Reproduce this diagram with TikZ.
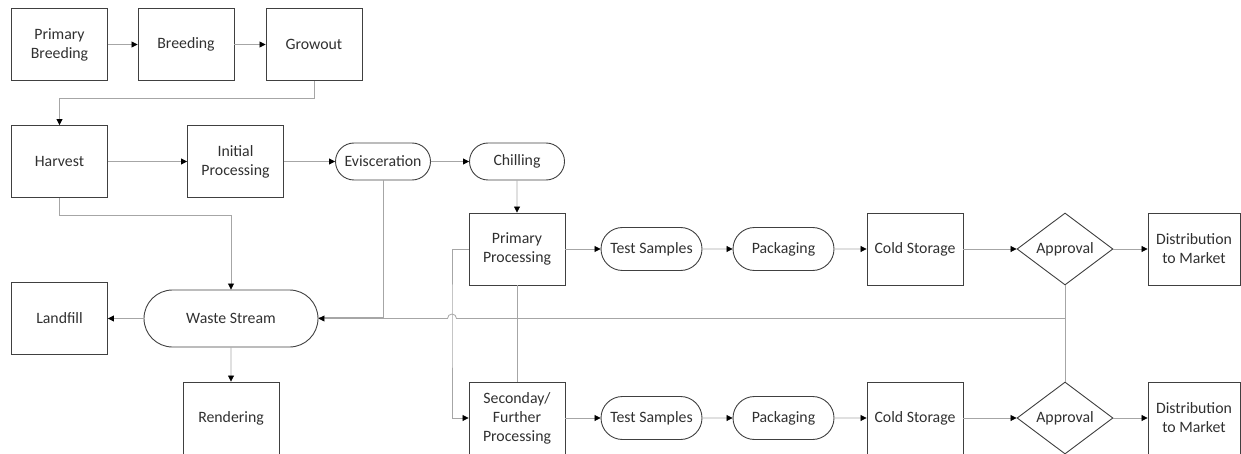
\documentclass[tikz,border=0pt]{standalone}
\usepackage{fontspec}
\setmainfont{Carlito}
\usepackage{tikz}
\usetikzlibrary{arrows.meta,shapes.geometric,shapes.misc}
\definecolor{boxline}{HTML}{404040}
\definecolor{wiregray}{HTML}{A6A6A6}
\definecolor{ink}{HTML}{303030}

\begin{document}
\begin{tikzpicture}[x=1pt,y=-1pt,
        >={Triangle[length=6pt,width=6pt,color=black]},
        every node/.style={font=\fontsize{15.8}{19}\selectfont, text=ink, align=center},
        stage/.style={draw=boxline, line width=0.9pt, minimum width=96pt, minimum height=72pt, inner sep=1pt},
        terminal/.style={draw=boxline, line width=0.9pt, rounded rectangle, minimum width=97pt, minimum height=37pt, inner sep=1pt},
        decision/.style={draw=boxline, line width=0.9pt, diamond, aspect=1.33, minimum width=96pt, minimum height=72pt, inner sep=0pt},
        link/.style={draw=wiregray, line width=0.8pt}]
        \useasboundingbox (0,0) rectangle (1241,454);

        % farm side
        \node[stage] (pb) at (59.5,44.5) {Primary\\Breeding};
        \node[stage] (br) at (186,44.5) {Breeding};
        \node[stage] (gr) at (314,44.5) {Growout};
        \node[stage] (hv) at (59.5,161.5) {Harvest};
        \node[stage] (ip) at (235.5,161.5) {Initial\\Processing};
        \node[terminal] (ev) at (383,161.5) {Evisceration};
        \node[terminal] (ch) at (517,161.5) {Chilling};

        % waste side
        \node[stage] (lf) at (59.5,318.5) {Landfill};
        \node[terminal, minimum width=176pt, minimum height=57pt] (ws) at (231,318.5) {Waste Stream};
        \node[stage] (rd) at (231,418) {Rendering};

        % processing lines
        \node[stage] (pp) at (517,249) {Primary\\Processing};
        \node[terminal, minimum width=103pt, minimum height=43pt] (ts1) at (651.5,249) {Test Samples};
        \node[terminal, minimum width=103pt, minimum height=43pt] (pk1) at (783.5,249) {Packaging};
        \node[stage] (cs1) at (915,249) {Cold Storage};
        \node[decision] (ap1) at (1065,249) {Approval};
        \node[stage, minimum width=92pt] (dm1) at (1194,249) {Distribution\\to Market};

        \node[stage] (sp) at (517,418) {Seconday/\\Further\\Processing};
        \node[terminal, minimum width=103pt, minimum height=43pt] (ts2) at (651.5,418) {Test Samples};
        \node[terminal, minimum width=103pt, minimum height=43pt] (pk2) at (783.5,418) {Packaging};
        \node[stage] (cs2) at (915,418) {Cold Storage};
        \node[decision] (ap2) at (1065,418) {Approval};
        \node[stage, minimum width=92pt] (dm2) at (1194,418) {Distribution\\to Market};

        \coordinate (jn) at (1065,318.5);
        \coordinate (hp) at (452,318.5);

        \draw[link,->] (pb) -- (br);
        \draw[link,->] (br) -- (gr);
        \draw[link,->] (gr.south) -- ++(0,17.5) -| (hv.north); % back to the left
        \draw[link,->] (hv) -- (ip);
        \draw[link,->] (ip) -- (ev);
        \draw[link,->] (ev) -- (ch);
        \draw[link,->] (ch) -- (pp);
        \draw[link,->] (hv.south) -- ++(0,17.5) -| (ws.north);
        \draw[link] (ev.south) |- ([yshift=1.5pt]ws.east);
        \draw[link,->] (ws) -- (lf);
        \draw[link,->] (ws) -- (rd);
        \draw[link,->] (pp.west) -| (hp) |- (sp.west); % split to second line
        \draw[link] (pp.south) -- (sp.north);

        \draw[link,->] (pp) -- (ts1);
        \draw[link,->] (ts1) -- (pk1);
        \draw[link,->] (pk1) -- (cs1);
        \draw[link,->] (cs1) -- (ap1);
        \draw[link,->] (ap1) -- (dm1);
        \draw[link,->] (sp) -- (ts2);
        \draw[link,->] (ts2) -- (pk2);
        \draw[link,->] (pk2) -- (cs2);
        \draw[link,->] (cs2) -- (ap2);
        \draw[link,->] (ap2) -- (dm2);

        \draw[link] (ap1.south) -- (ap2.north);
        \draw[link,->] (jn) -- ([xshift=4.5pt]hp) arc[start angle=0,end angle=180,radius=4.5pt] -- (ws.east); % rejects to waste
\end{tikzpicture}
\end{document}
